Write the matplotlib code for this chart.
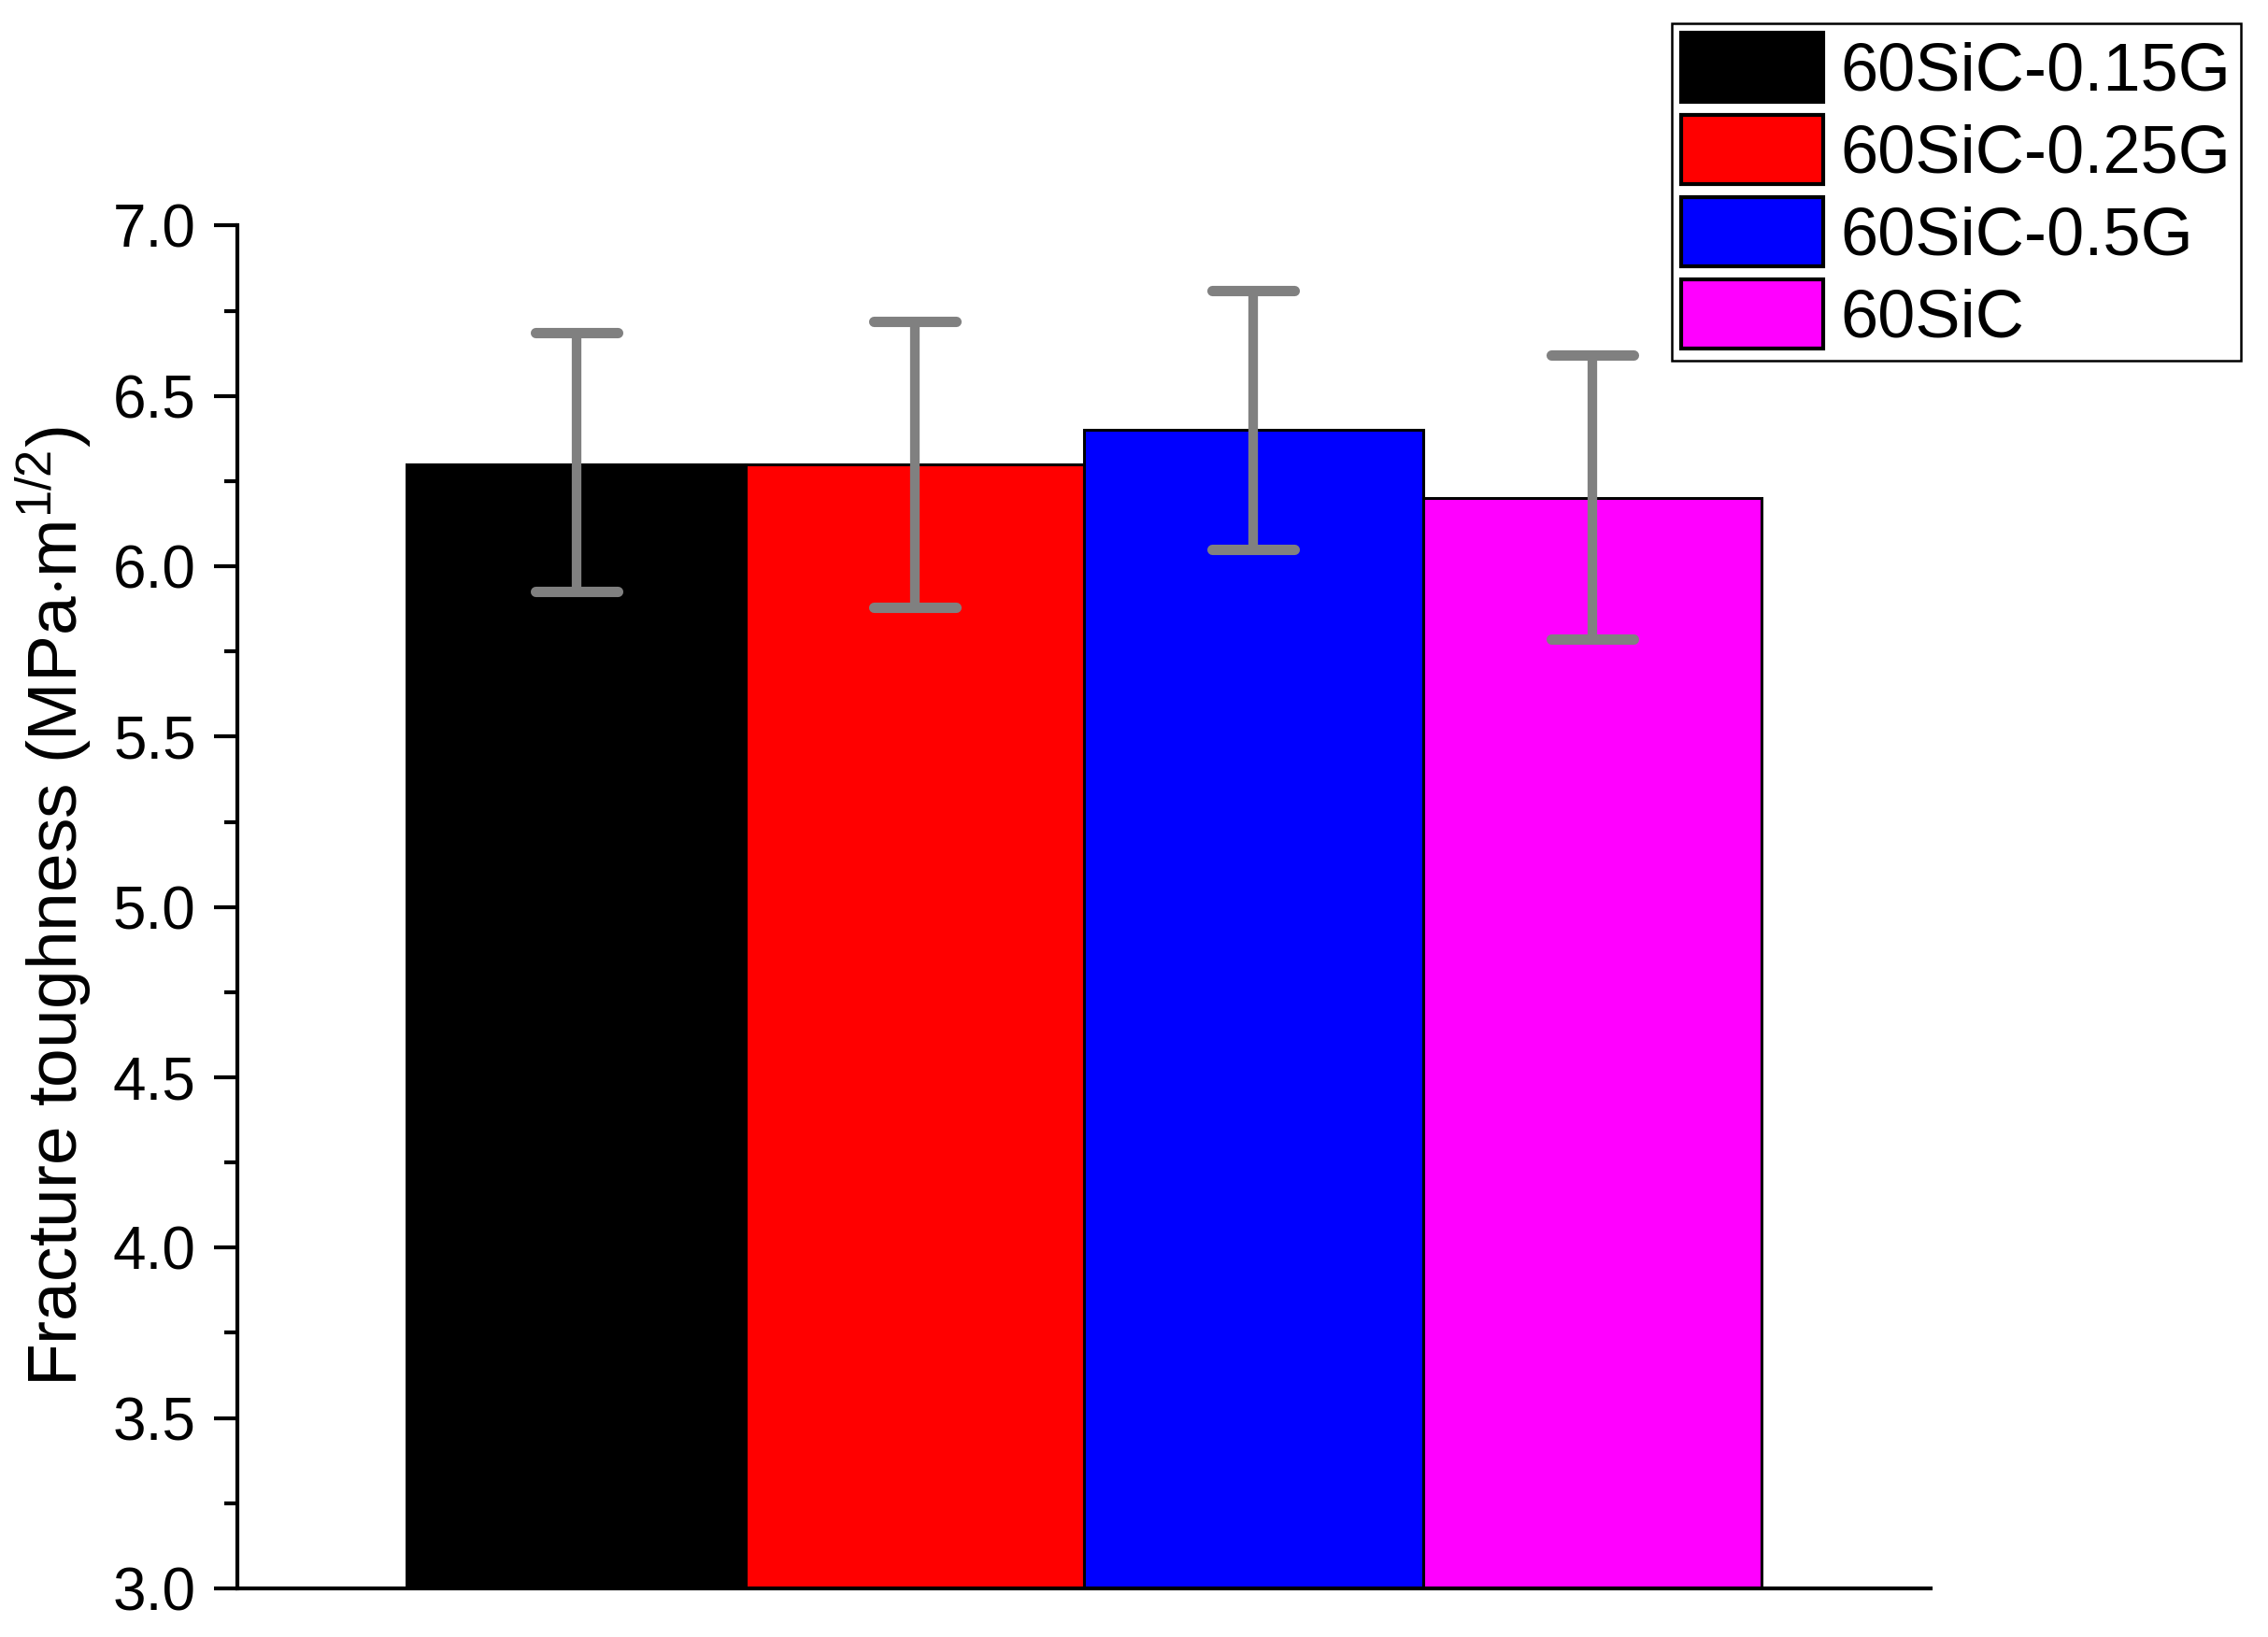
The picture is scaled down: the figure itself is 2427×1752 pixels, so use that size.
import matplotlib
matplotlib.use("Agg")
import matplotlib.pyplot as plt
from matplotlib.ticker import MultipleLocator, FormatStrFormatter
from matplotlib.markers import MarkerStyle

plt.rcParams['font.family'] = ['Liberation Sans', 'DejaVu Sans']
plt.rcParams['mathtext.fontset'] = 'custom'
plt.rcParams['mathtext.rm'] = 'Liberation Sans'
plt.rcParams['mathtext.it'] = 'Liberation Sans'

# Data
labels = ["60SiC-0.15G", "60SiC-0.25G", "60SiC-0.5G", "60SiC"]
values = [6.30, 6.30, 6.40, 6.20]
err_upper = [0.385, 0.42, 0.41, 0.42]
err_lower = [0.375, 0.42, 0.35, 0.415]
colors = ["#000000", "#ff0000", "#0000ff", "#ff00ff"]
positions = [1, 2, 3, 4]

fig = plt.figure(figsize=(24.27, 17.52), dpi=100)
ax = fig.add_axes([0.1047, 0.0297, 0.7466, 0.8325])

for x, v, c, lab in zip(positions, values, colors, labels):
    ax.bar(x, v - 3.0, bottom=3.0, width=1.0, color=c, edgecolor="black",
           linewidth=2.2, label=lab, zorder=2)

eb = ax.errorbar(positions, values, yerr=[err_lower, err_upper], fmt="none",
                 ecolor="#808080", elinewidth=7.4, capsize=32, capthick=8,
                 zorder=3)
for cl in eb.lines[1]:
    cl.set_marker(MarkerStyle("_", capstyle="round"))
for lc in eb.lines[2]:
    lc.set_capstyle("butt")

ax.set_xlim(0, 5)
ax.set_ylim(3.0, 7.0)
ax.yaxis.set_major_locator(MultipleLocator(0.5))
ax.yaxis.set_minor_locator(MultipleLocator(0.25))
ax.yaxis.set_major_formatter(FormatStrFormatter("%.1f"))
ax.set_xticks([])

for s in ["top", "right"]:
    ax.spines[s].set_visible(False)
for s in ["left", "bottom"]:
    ax.spines[s].set_linewidth(3)

ax.tick_params(axis="y", which="major", direction="out", length=18, width=3,
               labelsize=46, pad=14)
ax.tick_params(axis="y", which="minor", direction="out", length=10, width=3)

ax.set_ylabel("Fracture toughness (MPa$\\cdot$m$^{1/2}$)", fontsize=54, labelpad=14)

leg = fig.legend(loc="upper right", bbox_to_anchor=(0.988, 0.986),
                 bbox_transform=fig.transFigure, fontsize=52,
                 handlelength=2.1, handleheight=1.2, handletextpad=0.25,
                 labelspacing=0.16, borderpad=0.15, borderaxespad=0,
                 fancybox=False, framealpha=1, edgecolor="black")
leg.get_frame().set_linewidth(1.8)
for h in leg.legend_handles:
    h.set_linewidth(3)

fig.savefig("out.png", dpi=100)
